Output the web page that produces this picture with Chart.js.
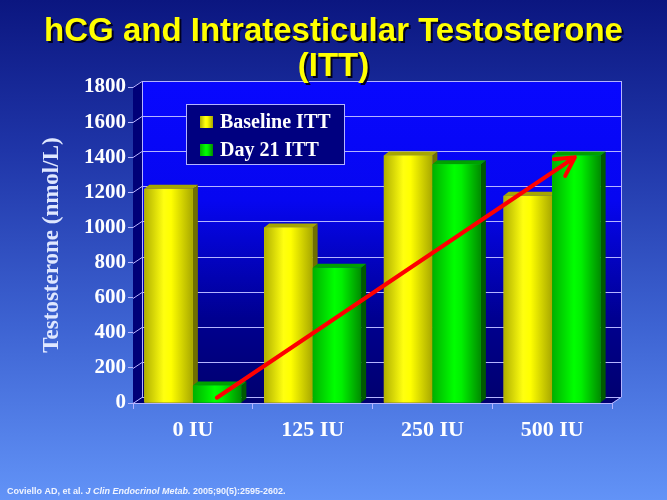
<!DOCTYPE html>
<html>
<head>
<meta charset="utf-8">
<script src="https://cdn.jsdelivr.net/npm/chart.js@4.4.1/dist/chart.umd.min.js"></script>
<style>
  body { margin: 0; }
  #wrap {
    width: 667px; height: 500px;
    background: linear-gradient(#0b1680 0%, #1f35a8 30%, #3d63d2 65%, #6293f7 100%);
  }
</style>
</head>
<body>
<div id="wrap"><canvas id="myChart" width="667" height="500"></canvas></div>
<script>
var categories = ["0 IU", "125 IU", "250 IU", "500 IU"]
var baselineITT = [1220, 1000, 1410, 1180]
var day21ITT = [100, 770, 1360, 1410]
var seriesNames = ["Baseline ITT", "Day 21 ITT"]
var yMax = 1800
var yStep = 200
// red trend arrow, [category index, value]
var arrowFrom = [0.2, 30]
var arrowTo = [3.19, 1400]

var lineCol = "#b4b4ff"
var wallDX = 9, wallDY = 6
var barDX = 5, barDY = 4

function barGradient(ctx, left, right, kind) {
    var g = ctx.createLinearGradient(left, 0, right, 0)
    if (kind == 0) {
        g.addColorStop(0, "#b0b000")
        g.addColorStop(0.4, "#ffff10")
        g.addColorStop(0.55, "#ffff00")
        g.addColorStop(1, "#a8a800")
    } else {
        g.addColorStop(0, "#00b000")
        g.addColorStop(0.45, "#00ff00")
        g.addColorStop(0.6, "#00f000")
        g.addColorStop(1, "#008c00")
    }
    return g
}

var walls = {
    id: "walls",
    beforeDatasetsDraw: function (chart) {
        var ctx = chart.ctx
        var a = chart.chartArea
        var ys = chart.scales.y
        ctx.save()
        // back wall
        var g = ctx.createLinearGradient(0, a.top - wallDY, 0, a.bottom - wallDY)
        g.addColorStop(0, "#0808ff")
        g.addColorStop(0.38, "#0606f0")
        g.addColorStop(0.75, "#000090")
        g.addColorStop(1, "#000070")
        ctx.fillStyle = g
        ctx.fillRect(a.left + wallDX, a.top - wallDY, a.right - a.left, a.bottom - a.top)
        // left wall
        ctx.fillStyle = "#000078"
        ctx.beginPath()
        ctx.moveTo(a.left, a.top)
        ctx.lineTo(a.left + wallDX, a.top - wallDY)
        ctx.lineTo(a.left + wallDX, a.bottom - wallDY)
        ctx.lineTo(a.left, a.bottom)
        ctx.closePath()
        ctx.fill()
        // floor
        ctx.fillStyle = "#000070"
        ctx.beginPath()
        ctx.moveTo(a.left, a.bottom)
        ctx.lineTo(a.left + wallDX, a.bottom - wallDY)
        ctx.lineTo(a.right + wallDX, a.bottom - wallDY)
        ctx.lineTo(a.right, a.bottom)
        ctx.closePath()
        ctx.fill()
        // grid lines
        ctx.strokeStyle = lineCol
        ctx.lineWidth = 1
        for (var v = 0; v <= yMax; v += yStep) {
            var y = Math.round(ys.getPixelForValue(v)) + 0.5
            ctx.beginPath()
            ctx.moveTo(a.left, y)
            ctx.lineTo(a.left + wallDX, y - wallDY)
            ctx.lineTo(a.right + wallDX, y - wallDY)
            ctx.stroke()
        }
        ctx.beginPath()
        ctx.moveTo(a.left + wallDX + 0.5, a.top - wallDY)
        ctx.lineTo(a.left + wallDX + 0.5, a.bottom - wallDY)
        ctx.moveTo(a.right + wallDX + 0.5, a.top - wallDY)
        ctx.lineTo(a.right + wallDX + 0.5, a.bottom - wallDY)
        ctx.lineTo(a.right, a.bottom + 0.5)
        ctx.stroke()
        ctx.restore()
    }
}

var bars3d = {
    id: "bars3d",
    afterDatasetsDraw: function (chart) {
        var ctx = chart.ctx
        ctx.save()
        for (var d = 0; d < chart.data.datasets.length; d++) {
            var meta = chart.getDatasetMeta(d)
            for (i = 0; i < meta.data.length; i++) {
                var b = meta.data[i]
                var left = b.x - b.width / 2
                var right = b.x + b.width / 2
                var top = b.y
                var base = b.base
                // side
                ctx.fillStyle = d == 0 ? "#707000" : "#005a00"
                ctx.beginPath()
                ctx.moveTo(right, top)
                ctx.lineTo(right + barDX, top - barDY)
                ctx.lineTo(right + barDX, base - barDY)
                ctx.lineTo(right, base)
                ctx.closePath()
                ctx.fill()
                // top
                ctx.fillStyle = d == 0 ? "#a6a600" : "#00a000"
                ctx.beginPath()
                ctx.moveTo(left, top)
                ctx.lineTo(left + barDX, top - barDY)
                ctx.lineTo(right + barDX, top - barDY)
                ctx.lineTo(right, top)
                ctx.closePath()
                ctx.fill()
                // front
                ctx.fillStyle = barGradient(ctx, left, right, d)
                ctx.fillRect(left, top, right - left, base - top)
            }
        }
        ctx.restore()
    }
}

var legendBox = {
    id: "legendBox",
    afterDatasetsDraw: function (chart) {
        var ctx = chart.ctx
        var a = chart.chartArea
        var x = a.left + 53, y = a.top + 17
        ctx.save()
        ctx.fillStyle = "#000080"
        ctx.fillRect(x, y, 158, 60)
        ctx.strokeStyle = lineCol
        ctx.lineWidth = 1
        ctx.strokeRect(x + 0.5, y + 0.5, 158, 60)
        ctx.font = "bold 20px 'Liberation Serif'"
        ctx.textBaseline = "middle"
        for (var k = 0; k < seriesNames.length; k++) {
            var cy = y + 18 + k * 28
            ctx.fillStyle = barGradient(ctx, x + 14, x + 27, k)
            ctx.fillRect(x + 14, cy - 6, 13, 12)
            ctx.fillStyle = "#ffffff"
            ctx.fillText(seriesNames[k], x + 34, cy + 1)
        }
        ctx.restore()
    }
}

var arrow = {
    id: "arrow",
    afterDatasetsDraw: function (chart) {
        var ctx = chart.ctx
        var xs = chart.scales.x, ys = chart.scales.y
        var step = xs.getPixelForValue(1) - xs.getPixelForValue(0)
        var x0 = xs.getPixelForValue(0) + arrowFrom[0] * step
        var y0 = ys.getPixelForValue(arrowFrom[1])
        var x1 = xs.getPixelForValue(0) + arrowTo[0] * step
        var y1 = ys.getPixelForValue(arrowTo[1])
        var ang = Math.atan2(y1 - y0, x1 - x0)
        ctx.save()
        ctx.strokeStyle = "#ff0000"
        ctx.lineWidth = 4
        ctx.lineCap = "round"
        ctx.lineJoin = "round"
        ctx.beginPath()
        ctx.moveTo(x0, y0)
        ctx.lineTo(x1, y1)
        ctx.moveTo(x1 - 21 * Math.cos(ang - 0.5), y1 - 21 * Math.sin(ang - 0.5))
        ctx.lineTo(x1, y1)
        ctx.lineTo(x1 - 21 * Math.cos(ang + 0.5), y1 - 21 * Math.sin(ang + 0.5))
        ctx.stroke()
        ctx.restore()
    }
}

var texts = {
    id: "texts",
    afterDraw: function (chart) {
        var ctx = chart.ctx
        ctx.save()
        ctx.font = "bold 33px 'Liberation Sans'"
        ctx.textAlign = "center"
        ctx.textBaseline = "alphabetic"
        var lines = ["hCG and Intratesticular Testosterone", "(ITT)"]
        for (var k = 0; k < lines.length; k++) {
            ctx.fillStyle = "#000020"
            ctx.fillText(lines[k], 335.5, 42.5 + k * 35)
            ctx.fillStyle = "#ffff00"
            ctx.fillText(lines[k], 333.5, 40.5 + k * 35)
        }
        // footnote
        ctx.textAlign = "left"
        ctx.fillStyle = "#f0f4ff"
        var parts = [["Coviello AD, et al. ", "bold "], ["J Clin Endocrinol Metab.", "italic bold "], [" 2005;90(5):2595-2602.", "bold "]]
        var fx = 7
        for (var p = 0; p < parts.length; p++) {
            ctx.font = parts[p][1] + "9px 'Liberation Sans'"
            ctx.fillText(parts[p][0], fx, 494)
            fx += ctx.measureText(parts[p][0]).width
        }
        ctx.restore()
    }
}

new Chart("myChart", {
    type: "bar",
    data: {
        labels: categories,
        datasets: [{
            label: seriesNames[0],
            data: baselineITT,
            backgroundColor: "#ffff00"
        }, {
            label: seriesNames[1],
            data: day21ITT,
            backgroundColor: "#00ff00"
        }]
    },
    options: {
        responsive: false,
        animation: false,
        events: [],
        layout: { padding: { top: 87, right: 55, left: 0, bottom: 0 } },
        datasets: { bar: { categoryPercentage: 0.81, barPercentage: 1 } },
        plugins: {
            legend: { display: false },
            tooltip: { enabled: false }
        },
        scales: {
            x: {
                grid: { drawOnChartArea: false, drawTicks: true, tickLength: 6, color: lineCol, offset: true },
                border: { color: lineCol },
                ticks: { color: "#ffffff", font: { family: "Liberation Serif", weight: "bold", size: 22 }, padding: 8 },
                afterFit: function (s) { s.height = 97 }
            },
            y: {
                min: 0,
                max: yMax,
                ticks: {
                    stepSize: yStep, color: "#ffffff", padding: 2,
                    font: { family: "Liberation Serif", weight: "bold", size: 21 },
                    callback: function (v) { return String(v) }
                },
                grid: { drawOnChartArea: false, drawTicks: true, tickLength: 5, color: lineCol },
                border: { color: lineCol },
                title: {
                    display: true,
                    text: "Testosterone (nmol/L)",
                    color: "#dfe7ff",
                    font: { family: "Liberation Serif", weight: "bold", size: 23 },
                    padding: { top: 38, bottom: 0 }
                },
                afterFit: function (s) { s.width = 133 }
            }
        }
    },
    plugins: [walls, bars3d, legendBox, arrow, texts]
});
</script>
</body>
</html>
